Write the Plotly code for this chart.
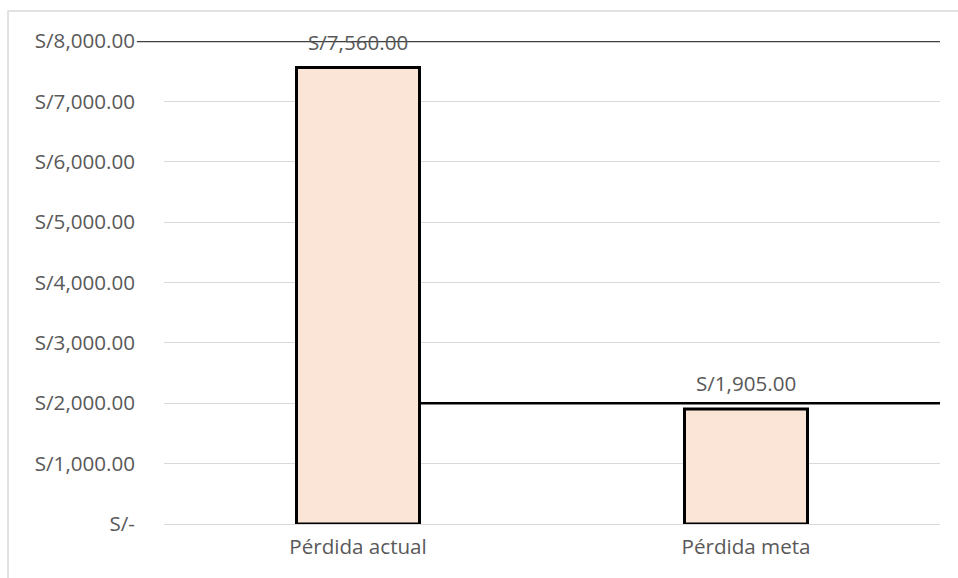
import plotly.graph_objects as go

# Loss comparison: current vs target
categories = ["Pérdida actual", "Pérdida meta"]
values = [7560, 1905]

# Y axis ticks in soles
tick_values = [0, 1000, 2000, 3000, 4000, 5000, 6000, 7000, 8000]
tick_labels = ["S/-", "S/1,000.00", "S/2,000.00", "S/3,000.00", "S/4,000.00",
               "S/5,000.00", "S/6,000.00", "S/7,000.00", "S/8,000.00"]

# Horizontal reference levels
upper_level = 8000
lower_level = 2000

FONT = "Open Sans, sans-serif"
FONT_SIZE = 20.6
TEXT_GRAY = "#595959"
BAR_WIDTH = 0.317


def soles(v):
    return "S/{:,.2f}".format(v)


fig = go.Figure()
fig.add_trace(go.Bar(
    x=categories,
    y=values,
    width=BAR_WIDTH,
    marker=dict(color="#FBE5D6", line=dict(color="#000000", width=3)),
    hoverinfo="skip",
))

for cat, v in zip(categories, values):
    fig.add_annotation(
        x=cat, y=v, text=soles(v), showarrow=False,
        yanchor="bottom", yshift=10,
        font=dict(family=FONT, size=FONT_SIZE, color=TEXT_GRAY),
    )

# Reference lines
fig.add_shape(type="line", xref="paper", yref="y",
              x0=-0.035, x1=1.0, y0=upper_level, y1=upper_level,
              line=dict(color="#404040", width=2.5), layer="above")
fig.add_shape(type="line", xref="x", yref="y",
              x0=BAR_WIDTH / 2, x1=1.5, y0=lower_level, y1=lower_level,
              line=dict(color="#000000", width=2.5), layer="above")

# Chart area border
fig.add_shape(type="rect", xref="paper", yref="paper",
              x0=-0.201, x1=1.2, y0=-0.2, y1=1.062,
              line=dict(color="#D9D9D9", width=1.5), layer="below")

fig.update_layout(
    width=958, height=578,
    margin=dict(l=164, r=18, t=41, b=54),
    paper_bgcolor="white", plot_bgcolor="white",
    showlegend=False,
    font=dict(family=FONT, size=FONT_SIZE, color=TEXT_GRAY),
    xaxis=dict(
        range=[-0.5, 1.5], showgrid=False, zeroline=False,
        showline=False, ticks="", ticklabelstandoff=8,
        tickfont=dict(family=FONT, size=FONT_SIZE, color=TEXT_GRAY),
    ),
    yaxis=dict(
        range=[0, 8000], tickvals=tick_values, ticktext=tick_labels,
        showgrid=True, gridcolor="#D9D9D9", gridwidth=1.3,
        zeroline=True, zerolinecolor="#D9D9D9", zerolinewidth=1.3,
        showline=False, ticks="", ticklabelstandoff=28,
        tickfont=dict(family=FONT, size=FONT_SIZE, color=TEXT_GRAY),
    ),
)

fig.write_html("out.html")
